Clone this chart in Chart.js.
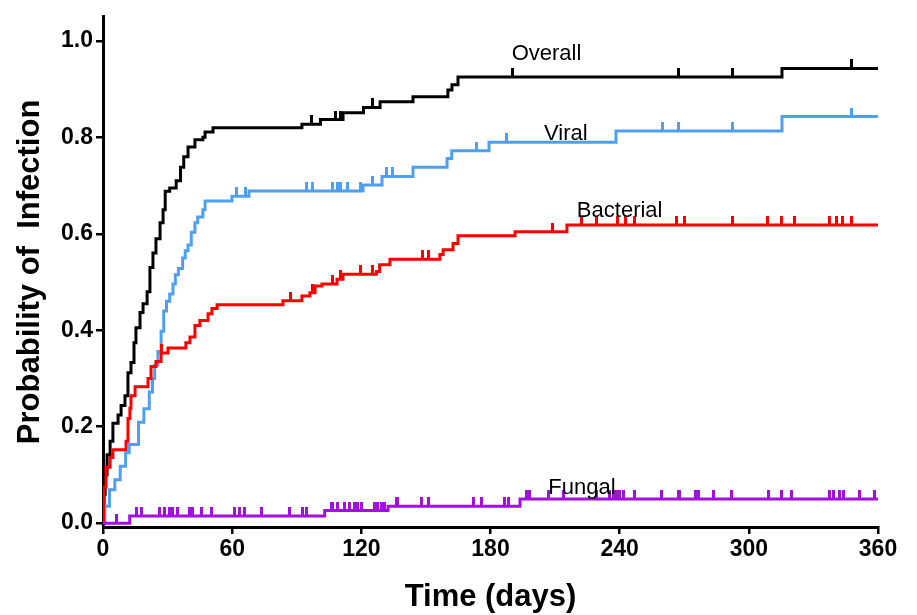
<!DOCTYPE html>
<html>
<head>
<meta charset="utf-8">
<script src="https://cdn.jsdelivr.net/npm/chart.js@4.4.1/dist/chart.umd.min.js"></script>
<style>
  html, body { margin: 0; padding: 0; background: #fff; }
  canvas { display: block; }
</style>
</head>
<body>
<canvas id="kmChart" width="917" height="615"></canvas>
<script>
// days of each step (x) and cumulative probability after the step (y)
var overallDays = [0, 0.5, 1, 1.9, 3.3, 4.6, 7, 8.4, 10.2, 11.6, 13, 14.4, 15.3, 17.2, 18.6, 20.5, 21.8, 23.2, 24.6, 26.5, 27.9, 28.9, 31, 34, 36, 37.5, 39.5, 42.7, 46.4, 47.4, 51.1, 92.4, 101, 111.5, 121, 128.7, 144, 160.2, 162.1, 164.9, 315.4, 360];
var overallProb = [0, 0.06, 0.1, 0.142, 0.17, 0.207, 0.224, 0.244, 0.264, 0.312, 0.333, 0.374, 0.405, 0.437, 0.455, 0.48, 0.53, 0.56, 0.59, 0.623, 0.65, 0.688, 0.695, 0.71, 0.738, 0.76, 0.78, 0.795, 0.8, 0.811, 0.82, 0.827, 0.837, 0.851, 0.862, 0.874, 0.884, 0.898, 0.909, 0.925, 0.943, 0.943];
var overallCensor = [97, 107.8, 110.1, 125.4, 190.4, 267.5, 292.6, 347.9];

var viralDays = [0, 0.9, 3, 5.5, 8, 10.5, 12.2, 16.5, 19, 21.5, 23, 24, 25.5, 27, 28.2, 29.5, 31, 32.5, 33.6, 35, 37, 38.2, 39.5, 41, 42.7, 44, 46.4, 47.4, 59.9, 67.8, 120.8, 129.6, 144, 159.8, 162, 179.3, 238.3, 315.4, 360];
var viralProb = [0, 0.035, 0.069, 0.09, 0.118, 0.146, 0.163, 0.209, 0.237, 0.272, 0.3, 0.328, 0.356, 0.398, 0.44, 0.46, 0.475, 0.496, 0.515, 0.528, 0.55, 0.565, 0.577, 0.603, 0.623, 0.635, 0.65, 0.668, 0.678, 0.689, 0.701, 0.719, 0.738, 0.756, 0.772, 0.79, 0.813, 0.843, 0.843];
var viralCensor = [62.2, 66, 94.3, 97.1, 106.8, 108.7, 110.1, 113.8, 119.4, 125.4, 131.9, 134.7, 173.7, 187.6, 260.1, 267.5, 292.6, 347.9];

var bactDays = [0, 0.3, 1.4, 3.3, 4.6, 10.7, 11.6, 12.5, 13, 14.9, 20.9, 22.3, 24.6, 27, 30.2, 38.5, 40.4, 42.7, 45, 48.8, 50.6, 53, 83.6, 92.4, 96.1, 98.5, 101.7, 108.7, 111.5, 127, 128.5, 133.3, 156.5, 158, 162.6, 164.9, 191.4, 215.5, 360];
var bactProb = [0, 0.075, 0.116, 0.136, 0.152, 0.17, 0.217, 0.238, 0.264, 0.283, 0.3, 0.325, 0.335, 0.353, 0.363, 0.374, 0.386, 0.41, 0.42, 0.434, 0.445, 0.453, 0.461, 0.471, 0.478, 0.492, 0.496, 0.506, 0.516, 0.522, 0.536, 0.547, 0.557, 0.567, 0.58, 0.596, 0.604, 0.618, 0.618];
var bactCensor = [27, 87, 97.5, 106.8, 110.1, 119.4, 125.4, 148.6, 151, 209, 222.5, 229.4, 239.2, 242.5, 247.1, 266.6, 270.3, 292.2, 308.9, 315.4, 321.4, 337.7, 340.5, 343.7, 347.9];

var fungalDays = [0, 12.4, 103, 132.4, 193.7, 360];
var fungalProb = [0, 0.015, 0.026, 0.035, 0.05, 0.05];
var fungalCensor = [6.2, 15.5, 17.8, 26.3, 28.6, 31, 32.5, 34.8, 40.3, 41.8, 45.7, 50.3, 61.2, 63.5, 65.8, 73.5, 86.7, 92.9, 94.4, 106, 106.8, 109.1, 112.3, 114.6, 116.9, 118.4, 120, 126.2, 127.7, 129.3, 130.8, 136.2, 137, 147.8, 151, 171.9, 175.7, 186.7, 188.3, 196.8, 198.3, 206.8, 213.8, 229.3, 235.5, 237, 238.6, 240.1, 241.7, 247.1, 259.5, 267.2, 268, 275, 276.5, 283.5, 292, 309, 315.2, 319.9, 337.7, 339.2, 342.3, 343.9, 351.6, 358.6];

var xTicks = [0, 60, 120, 180, 240, 300, 360];
var yTicks = [0, 0.2, 0.4, 0.6, 0.8, 1.0];

var curveNames = ["Overall", "Viral", "Bacterial", "Fungal"];
var nameDays = [206, 215, 240, 222.5];
var nameProbs = [0.973, 0.808, 0.648, 0.074];

var colors = ["#000000", "#4f9ff0", "#ff0000", "#a20fe0"];

function steps(days, prob) {
  return days.map((d, i) => ({ x: d, y: prob[i] }));
}

// censor mark sits on the curve, so read the curve value at that day
function marks(censor, days, prob) {
  return censor.map((d) => {
    var v = prob[0];
    for (let i = 0; i < days.length; i++) {
      if (days[i] <= d) v = prob[i];
    }
    return { x: d, y: v };
  });
}

function tickMark(color) {
  var c = document.createElement("canvas");
  c.width = 3;
  c.height = 18;
  var g = c.getContext("2d");
  g.fillStyle = color;
  g.fillRect(0, 0, 3, 9);
  return c;
}

function curve(days, prob, color) {
  return {
    type: "line",
    data: steps(days, prob),
    borderColor: color,
    borderWidth: 3,
    stepped: true,
    pointRadius: 0,
    fill: false,
    borderCapStyle: "butt",
    borderJoinStyle: "miter",
  };
}

function censorSet(censor, days, prob, color) {
  return {
    type: "scatter",
    data: marks(censor, days, prob),
    pointStyle: tickMark(color),
    pointRadius: 3,
    showLine: false,
  };
}

const curveLabels = {
  id: "curveLabels",
  afterDatasetsDraw(chart) {
    var { ctx, scales } = chart;
    ctx.save();
    ctx.font = '22px "Liberation Sans", Arial, sans-serif';
    ctx.fillStyle = "#000";
    ctx.textAlign = "center";
    ctx.textBaseline = "middle";
    for (let i = 0; i < curveNames.length; i++) {
      ctx.fillText(
        curveNames[i],
        scales.x.getPixelForValue(nameDays[i]),
        scales.y.getPixelForValue(nameProbs[i])
      );
    }
    ctx.restore();
  },
};

const tickFont = { family: '"Liberation Sans", Arial, sans-serif', size: 23, weight: "bold" };
const titleFont = { family: '"Liberation Sans", Arial, sans-serif', size: 31, weight: "bold", lineHeight: 1.1 };

const config = {
  data: {
    datasets: [
      censorSet(fungalCensor, fungalDays, fungalProb, colors[3]),
      curve(fungalDays, fungalProb, colors[3]),
      censorSet(bactCensor, bactDays, bactProb, colors[2]),
      curve(bactDays, bactProb, colors[2]),
      censorSet(viralCensor, viralDays, viralProb, colors[1]),
      curve(viralDays, viralProb, colors[1]),
      censorSet(overallCensor, overallDays, overallProb, colors[0]),
      curve(overallDays, overallProb, colors[0]),
    ],
  },
  options: {
    responsive: false,
    animation: false,
    devicePixelRatio: 1,
    layout: { padding: { top: 10, right: 39, left: 0, bottom: 0 } },
    plugins: { legend: { display: false }, tooltip: { enabled: false } },
    scales: {
      x: {
        type: "linear",
        min: 0,
        max: 360,
        afterBuildTicks: (scale) => {
          scale.ticks = xTicks.map((v) => ({ value: v }));
        },
        afterFit: (scale) => {
          scale.height = 88;
        },
        ticks: { color: "#000", font: tickFont, padding: 2, maxRotation: 0 },
        grid: { drawOnChartArea: false, tickLength: 7, color: "#000", lineWidth: 2.5 },
        border: { color: "#000", width: 3 },
        title: { display: true, text: "Time (days)", color: "#000", font: titleFont, padding: { top: 0, bottom: 0 } },
      },
      y: {
        type: "linear",
        min: -0.008,
        max: 1.05,
        afterBuildTicks: (scale) => {
          scale.ticks = yTicks.map((v) => ({ value: v }));
        },
        afterFit: (scale) => {
          scale.width = 103;
        },
        ticks: {
          color: "#000",
          font: tickFont,
          padding: 3,
          callback: (value) => value.toFixed(1),
        },
        grid: { drawOnChartArea: false, tickLength: 7, color: "#000", lineWidth: 2.5 },
        border: { color: "#000", width: 3 },
        title: { display: true, text: "Probability of  Infection", color: "#000", font: titleFont, padding: { top: 13, bottom: 0 } },
      },
    },
  },
  plugins: [curveLabels],
};

new Chart(document.getElementById("kmChart"), config);
</script>
</body>
</html>
